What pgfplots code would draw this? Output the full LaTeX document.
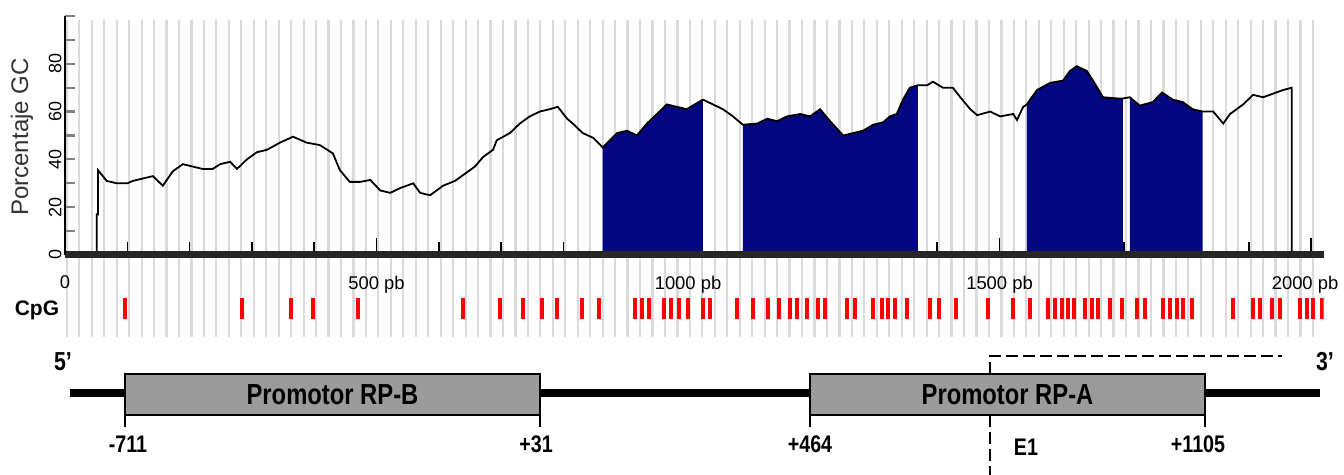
\documentclass[border=0pt]{standalone}
\usepackage{pgfplots}
\pgfplotsset{compat=1.18}
\usepackage{pgfplotstable}
\usepackage{fontspec}
\setmainfont{Liberation Sans}
\newfontfamily\nb[FakeStretch=0.82]{Liberation Sans Bold}
\definecolor{cgnavy}{RGB}{4,8,128}
\definecolor{boxgray}{RGB}{155,155,155}
\definecolor{gridgray}{RGB}{218,218,218}

\pgfplotstableread{
x y
51 0
51 17
53 17
53 35.5
67 31
83 30
100 30
109 31
125 32
141 33
157 29
173 35
189 38
205 37
221 36
237 36
249 38
265 39
276 36
292 40
308 43
324 44
345 47
366 49.5
388 47
409 46
430 42.5
441 35.6
457 30.6
474 30.6
490 31.4
506 27
522 26
538 28
559 30
570 26
586 25
607 29
626 31
642 34
658 37
671 41
687 44
693 48
714 51
730 55
746 58
762 60
778 61
791 62
806 57
815 55
831 51
848 49
863 45
886 51
902 52
918 50
934 55
950 59
966 63
982 62
998 61
1014 63.5
1024 65
1040 63
1056 61
1072 58
1088 54.5
1111 55
1127 57
1143 56
1159 58
1180 59
1196 58
1212 61
1228 56
1249 50
1265 51
1281 52
1297 54.5
1313 55.5
1324 58
1335 59
1345 65
1356 70
1369 71
1384 71
1393 72.5
1409 70
1425 70
1437 66
1453 61
1464 58.5
1485 60
1501 58
1522 59
1528 56.5
1538 62
1544 63
1549 65
1560 69
1581 72
1602 73
1613 77
1624 79
1640 77
1650 73
1666 66
1689 65.5
1698 65.5
1709 66
1725 62.5
1746 64
1761 68
1778 65
1794 64
1810 61
1826 60
1843 60
1859 55
1870 59
1891 63
1907 67
1923 66
1939 67.5
1955 69
1969 70
1969 0
}\gc

\begin{document}
\begin{tikzpicture}
\useasboundingbox (0,0) rectangle (672pt,237.5pt);
% background grid lines
\begin{axis}[at={(32.5pt,69pt)}, anchor=south west, scale only axis,
  width=629.25pt, height=158.5pt, xmin=0, xmax=2020, ymin=0, ymax=1,
  axis line style={draw=none}, xtick={3,23,...,2003}, ytick=\empty,
  xticklabels={}, major tick length=0pt, xmajorgrids,
  major grid style={line width=1.1pt, color=gridgray}]
\addplot[draw=none] coordinates {(0,0)};
\end{axis}
% main GC plot
\begin{axis}[at={(32.5pt,110pt)}, anchor=south west, scale only axis,
  width=629.25pt, height=119.5pt, xmin=0, xmax=2020, ymin=0, ymax=100,
  axis x line=bottom, axis y line=left, axis on top,
  x axis line style={-, line width=3.5pt, color=black!85},
  y axis line style={-, line width=1.2pt},
  xtick={0,500,1000,1500},
  xticklabels={0,500 pb,1000 pb,1500 pb},
  extra x ticks={2000}, extra x tick labels={2000 pb},
  extra x tick style={tick style={draw=none}, xticklabel style={xshift=-3pt}},
  major x tick style={draw=none},
  xticklabel style={font=\fontsize{9.2}{11}\selectfont, yshift=-7pt},
  ytick={0,10,...,100},
  yticklabels={0,,20,,40,,60,,80,,},
  major y tick style={line width=1.1pt},
  tick align=inside, major tick length=5pt,
  yticklabel style={rotate=90, anchor=south, inner sep=1.5pt, font=\fontsize{9}{10}\selectfont},
  /pgf/number format/assume math mode=true]
\pgfplotsinvokeforeach{100,200,300,400,600,700,800,900,1100,1200,1300,1400,1600,1700,1800,1900}{
  \draw[line width=0.8pt] (axis cs:#1,0) -- (axis cs:#1,5.4);}
\pgfplotsinvokeforeach{500,1000,1500,2000}{
  \draw[line width=0.8pt] (axis cs:#1,0) -- (axis cs:#1,7.1);}
\addplot[fill=cgnavy, draw=none, restrict x to domain=862:1025] table {\gc} \closedcycle;
\addplot[fill=cgnavy, draw=none, restrict x to domain=1087:1370] table {\gc} \closedcycle;
\addplot[fill=cgnavy, draw=none, restrict x to domain=1543:1699] table {\gc} \closedcycle;
\addplot[fill=cgnavy, draw=none, restrict x to domain=1708:1827] table {\gc} \closedcycle;
\addplot[black, line width=0.9pt, mark=none] table {\gc};
\end{axis}
% CpG sites
\begin{axis}[at={(32.5pt,78pt)}, anchor=south west, scale only axis,
  width=629.25pt, height=10.5pt, xmin=0, xmax=2020, ymin=0, ymax=1, hide axis]
\addplot[ycomb, draw=red, line width=2pt, mark=none] coordinates {
(96,1) (284,1) (363,1) (398,1) (470,1) (639,1) (698,1) (735,1) (766,1) (790,1)
(830,1) (857,1) (915,1) (926,1) (937,1) (961,1) (973,1) (986,1) (1000,1) (1024,1)
(1035,1) (1079,1) (1104,1) (1128,1) (1146,1) (1164,1) (1175,1) (1191,1) (1209,1) (1220,1)
(1255,1) (1268,1) (1297,1) (1311,1) (1321,1) (1332,1) (1351,1) (1388,1) (1403,1) (1430,1)
(1481,1) (1522,1) (1549,1) (1578,1) (1589,1) (1600,1) (1610,1) (1619,1) (1637,1) (1648,1)
(1658,1) (1677,1) (1697,1) (1721,1) (1733,1) (1762,1) (1774,1) (1785,1) (1794,1) (1809,1)
(1875,1) (1907,1) (1918,1) (1937,1) (1950,1) (1982,1) (1993,1) (2003,1) (2018,1)};
\end{axis}
% labels
\node[rotate=90, font=\fontsize{12}{14}\selectfont, text=black!80] at (11pt,169pt) {Porcentaje GC};
\node[font=\bfseries\fontsize{10.5}{12}\selectfont] at (18.5pt,82.5pt) {CpG};
% gene map
\draw[dash pattern=on 6pt off 2.5pt, line width=0.7pt] (495pt,50.5pt) -- (495pt,59.5pt) -- (641pt,59.5pt);
\draw[dash pattern=on 6pt off 2.5pt, line width=0.7pt] (495pt,30pt) -- (495pt,0pt);
\draw[line width=4pt] (35pt,41pt) -- (660pt,41pt);
\draw[line width=0.9pt, fill=boxgray] (62.5pt,30pt) rectangle (270pt,50.5pt);
\draw[line width=0.9pt, fill=boxgray] (405pt,30pt) rectangle (602.5pt,50.5pt);
\foreach \xx in {62.5pt,270pt,405pt,602.5pt} {\draw[line width=0.8pt] (\xx,30pt) -- (\xx,24pt);}
\node[font=\nb\fontsize{14.5}{16}\selectfont] at (166.25pt,40.25pt) {Promotor RP-B};
\node[font=\nb\fontsize{14.5}{16}\selectfont] at (503.75pt,40.25pt) {Promotor RP-A};
\node[font=\nb\fontsize{12}{14}\selectfont] at (64pt,15.5pt) {-711};
\node[font=\nb\fontsize{12}{14}\selectfont] at (268pt,15.5pt) {+31};
\node[font=\nb\fontsize{12}{14}\selectfont] at (405pt,15.5pt) {+464};
\node[font=\nb\fontsize{12}{14}\selectfont] at (599pt,15.5pt) {+1105};
\node[font=\nb\fontsize{12}{14}\selectfont] at (513pt,14pt) {E1};
\node[font=\nb\fontsize{13}{15}\selectfont] at (31.5pt,56.5pt) {5’};
\node[font=\nb\fontsize{13}{15}\selectfont] at (662.5pt,56.5pt) {3’};
\end{tikzpicture}
\end{document}
